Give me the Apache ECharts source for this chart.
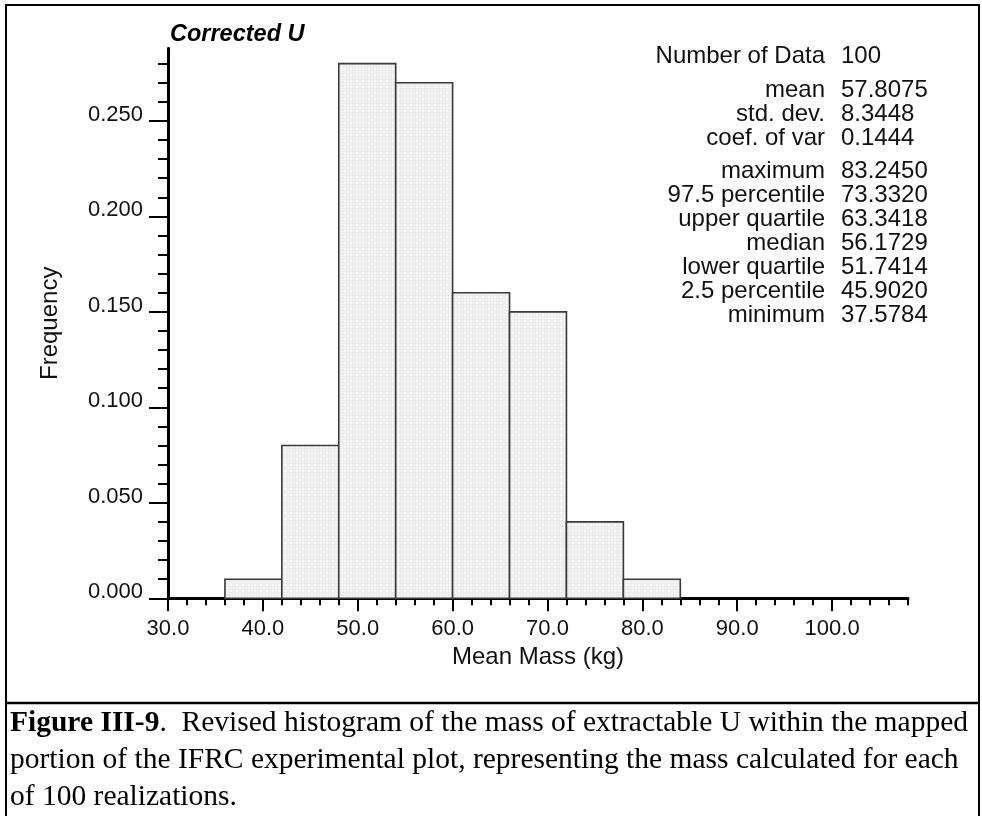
<!DOCTYPE html>
<html>
<head>
<meta charset="utf-8">
<script src="https://cdn.jsdelivr.net/npm/echarts@6/dist/echarts.min.js"></script>
<style>
html,body{margin:0;padding:0;background:#fff;}
#chart{width:982px;height:816px;}
</style>
</head>
<body>
<div id="chart"></div>
<script>
// ---- data ----
const binEdges = [36, 42, 48, 54, 60, 66, 72, 78, 84];
const frequencies = [0.01, 0.08, 0.28, 0.27, 0.16, 0.15, 0.04, 0.01];
const xMajorTicks = [30, 40, 50, 60, 70, 80, 90, 100];
const xTickLabels = ['30.0', '40.0', '50.0', '60.0', '70.0', '80.0', '90.0', '100.0'];
const xMinorTicks = [30,32,34,36,38,40,42,44,46,48,50,52,54,56,58,60,62,64,66,68,70,72,74,76,78,80,82,84,86,88,90,92,94,96,98,100,102,104,106,108];
const yMajorTicks = [0, 0.05, 0.1, 0.15, 0.2, 0.25];
const yTickLabels = ['0.000', '0.050', '0.100', '0.150', '0.200', '0.250'];
const yMinorTicks = [0,0.01,0.02,0.03,0.04,0.05,0.06,0.07,0.08,0.09,0.1,0.11,0.12,0.13,0.14,0.15,0.16,0.17,0.18,0.19,0.2,0.21,0.22,0.23,0.24,0.25,0.26,0.27,0.28];
const statLabels = ['Number of Data', 'mean', 'std. dev.', 'coef. of var', 'maximum', '97.5 percentile', 'upper quartile', 'median', 'lower quartile', '2.5 percentile', 'minimum'];
const statValues = ['100', '57.8075', '8.3448', '0.1444', '83.2450', '73.3320', '63.3418', '56.1729', '51.7414', '45.9020', '37.5784'];
const titleText = 'Corrected U';
const xName = 'Mean Mass (kg)';
const yName = 'Frequency';
const captionBold = 'Figure III-9';
const captionLines = [
  '.  Revised histogram of the mass of extractable U within the mapped',
  'portion of the IFRC experimental plot, representing the mass calculated for each',
  'of 100 realizations.'
];

const histData = frequencies.map((f, i) => [binEdges[i], binEdges[i + 1], f]);

// subtle dotted pattern fill for bars
const pat = document.createElement('canvas');
pat.width = 6; pat.height = 6;
const pc = pat.getContext('2d');
pc.fillStyle = '#f1f1f1'; pc.fillRect(0, 0, 6, 6);
pc.fillStyle = '#e3e3e6';
pc.fillRect(1, 1, 1, 1); pc.fillRect(4, 1, 1, 1); pc.fillRect(1, 4, 1, 1); pc.fillRect(4, 4, 1, 1);
pc.fillStyle = '#f8f8f8';
pc.fillRect(2, 2, 2, 2);

const FONT = "'Liberation Sans', Arial, Helvetica, sans-serif";
const SERIF = "'Liberation Serif', 'Times New Roman', serif";

const chart = echarts.init(document.getElementById('chart'), null, {renderer: 'canvas'});

const xBase = {type: 'value', min: 30, max: 108, position: 'bottom', splitLine: {show: false}};
const yBase = {type: 'value', min: 0, max: 0.288, position: 'left', splitLine: {show: false}};

const statY = [56.5, 90, 114, 138, 171.5, 195.5, 219.5, 243.5, 267.5, 291.5, 315.5];
const graphics = [
  {type: 'rect', shape: {x: 6, y: 5, width: 973, height: 830}, style: {fill: 'none', stroke: '#000', lineWidth: 2}, silent: true},
  {type: 'line', shape: {x1: 6, y1: 703, x2: 979, y2: 703}, style: {stroke: '#000', lineWidth: 2.5}, silent: true},
  {type: 'text', x: 170, y: 34.5, style: {text: titleText, font: 'italic bold 23.5px ' + FONT, fill: '#000', verticalAlign: 'middle', align: 'left'}}
];
statLabels.forEach((s, i) => {
  graphics.push({type: 'text', x: 825, y: statY[i], style: {text: s, font: '24px ' + FONT, fill: '#111', align: 'right', verticalAlign: 'middle'}});
  graphics.push({type: 'text', x: 841, y: statY[i], style: {text: statValues[i], font: '24px ' + FONT, fill: '#111', align: 'left', verticalAlign: 'middle'}});
});
const CAP = 29.5;
graphics.push({
  type: 'text', x: 10, y: 723,
  style: {
    rich: {b: {font: 'bold ' + CAP + 'px ' + SERIF, fill: '#000'}, n: {font: CAP + 'px ' + SERIF, fill: '#000'}},
    text: '{b|' + captionBold + '}{n|' + captionLines[0] + '}',
    verticalAlign: 'middle', align: 'left'
  }
});
graphics.push({type: 'text', x: 10, y: 760, style: {text: captionLines[1], font: CAP + 'px ' + SERIF, fill: '#000', verticalAlign: 'middle'}});
graphics.push({type: 'text', x: 10, y: 797, style: {text: captionLines[2], font: CAP + 'px ' + SERIF, fill: '#000', verticalAlign: 'middle'}});

chart.setOption({
  animation: false,
  backgroundColor: '#fff',
  grid: {left: 168, right: 74, top: 48.3, bottom: 217.7},
  xAxis: [
    Object.assign({}, xBase, {
      name: xName, nameLocation: 'middle', nameGap: 46,
      nameTextStyle: {fontFamily: FONT, fontSize: 24, color: '#111'},
      axisLine: {show: true, lineStyle: {color: '#000', width: 3}},
      axisTick: {show: true, length: 13, inside: false, customValues: xMajorTicks, lineStyle: {color: '#000', width: 2}},
      axisLabel: {show: true, customValues: xMajorTicks, margin: 20, fontFamily: FONT, fontSize: 22, color: '#111',
        formatter: v => { const i = xMajorTicks.indexOf(v); return i >= 0 ? xTickLabels[i] : ''; }}
    }),
    Object.assign({}, xBase, {
      axisLine: {show: false},
      axisTick: {show: true, length: 7, customValues: xMinorTicks, lineStyle: {color: '#000', width: 2}},
      axisLabel: {show: false}
    })
  ],
  yAxis: [
    Object.assign({}, yBase, {
      name: yName, nameLocation: 'middle', nameGap: 106, nameRotate: 90,
      nameTextStyle: {fontFamily: FONT, fontSize: 24, color: '#111'},
      axisLine: {show: true, lineStyle: {color: '#000', width: 3}},
      axisTick: {show: true, length: 19, customValues: yMajorTicks, lineStyle: {color: '#000', width: 2}},
      axisLabel: {show: true, customValues: yMajorTicks, margin: 25, verticalAlign: 'bottom', lineHeight: 12, fontFamily: FONT, fontSize: 22, color: '#111',
        formatter: v => { let idx = -1; yMajorTicks.forEach((t, i) => { if (Math.abs(t - v) < 1e-9) idx = i; }); return idx >= 0 ? yTickLabels[idx] : ''; }}
    }),
    Object.assign({}, yBase, {
      axisLine: {show: false},
      axisTick: {show: true, length: 10, customValues: yMinorTicks, lineStyle: {color: '#000', width: 2}},
      axisLabel: {show: false}
    })
  ],
  series: [{
    type: 'custom',
    xAxisIndex: 0, yAxisIndex: 0,
    data: histData,
    renderItem: function (params, api) {
      const p0 = api.coord([api.value(0), api.value(2)]);
      const p1 = api.coord([api.value(1), 0]);
      return {
        type: 'rect',
        shape: {x: p0[0], y: p0[1], width: p1[0] - p0[0], height: p1[1] - p0[1]},
        style: {fill: {image: pat, repeat: 'repeat'}, stroke: '#3a3a3a', lineWidth: 1.6}
      };
    }
  }],
  graphic: graphics
});
</script>
</body>
</html>
